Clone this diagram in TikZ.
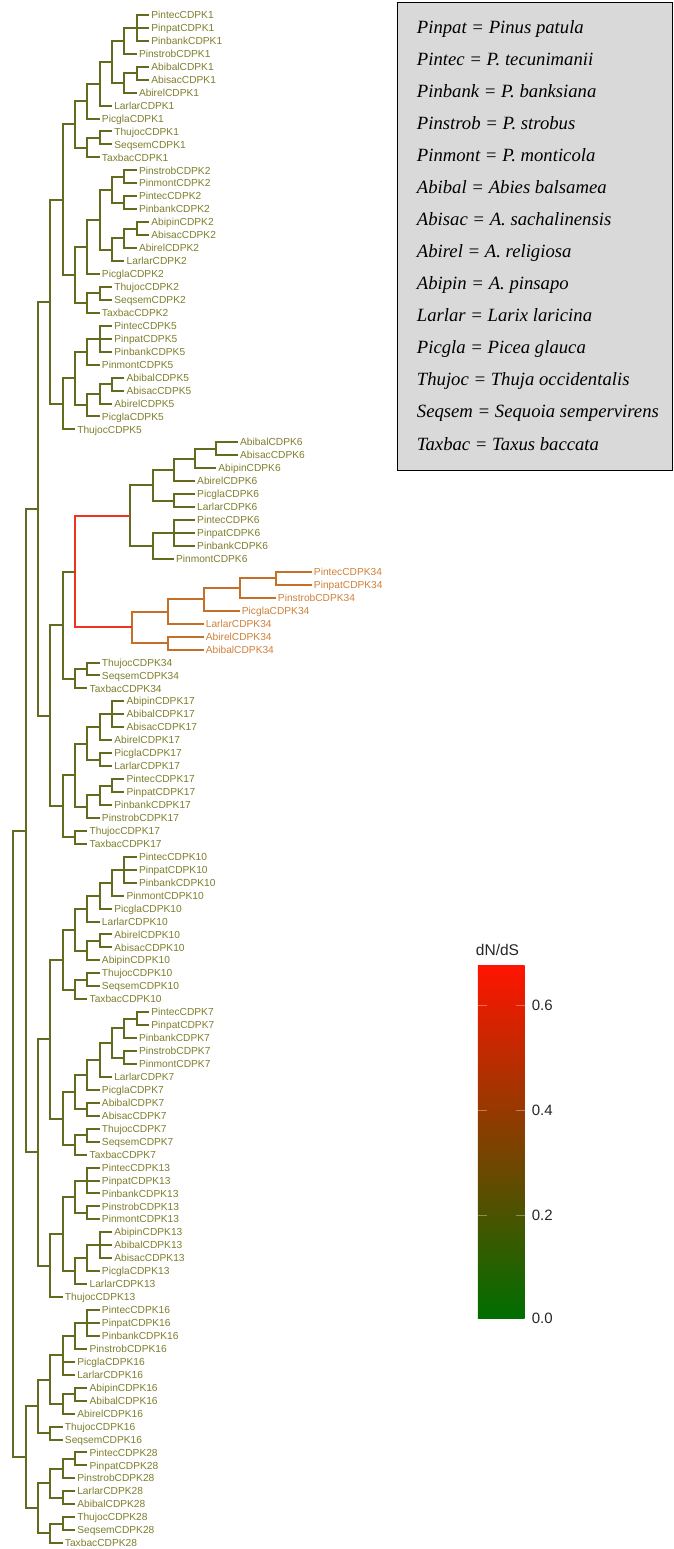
\documentclass[tikz,border=0pt]{standalone}
\usepackage{fontspec}
\setmainfont{Liberation Serif}
\setsansfont{Liberation Sans}
\definecolor{olivebr}{RGB}{100,106,30}
\definecolor{olivetx}{RGB}{126,126,44}
\definecolor{hotbr}{RGB}{236,52,32}
\definecolor{warmbr}{RGB}{196,112,40}
\definecolor{warmtx}{RGB}{208,128,56}
\definecolor{keygray}{RGB}{217,217,217}
\definecolor{cbgreen}{RGB}{0,110,0}
\definecolor{cbmid}{RGB}{150,92,0}
\definecolor{cbred}{RGB}{255,20,0}
\begin{document}
\begin{tikzpicture}[x=1pt, y=-1pt,
    taxon/.style={anchor=west, inner xsep=1.3pt, inner ysep=0pt, text height=7.3pt, text depth=0pt,
      font=\sffamily\fontsize{10.2}{12}\selectfont, text=olivetx},
    warmtaxon/.style={taxon, text=warmtx},
    keyline/.style={anchor=base west, inner sep=0pt, font=\itshape\fontsize{18.7}{22}\selectfont},
    barlabel/.style={anchor=west, inner sep=0pt, font=\sffamily\fontsize{15}{18}\selectfont, text=black!85}]
  \useasboundingbox (0,0) rectangle (674,1549);

  \begin{scope}[x=12.34pt, xshift=13.3pt, line width=2pt, olivebr]
    % CDPK1
    \node[taxon] (pintec1) at (11,15.0) {PintecCDPK1};
    \node[taxon] (pinpat1) at (11,27.9) {PinpatCDPK1};
    \node[taxon] (pinbank1) at (11,40.9) {PinbankCDPK1};
    \node[taxon] (pinstrob1) at (10,53.8) {PinstrobCDPK1};
    \node[taxon] (abibal1) at (11,66.8) {AbibalCDPK1};
    \node[taxon] (abisac1) at (11,79.7) {AbisacCDPK1};
    \node[taxon] (abirel1) at (10,92.7) {AbirelCDPK1};
    \node[taxon] (larlar1) at (8,105.6) {LarlarCDPK1};
    \node[taxon] (picgla1) at (7,118.6) {PicglaCDPK1};
    \node[taxon] (thujoc1) at (8,131.5) {ThujocCDPK1};
    \node[taxon] (seqsem1) at (8,144.5) {SeqsemCDPK1};
    \node[taxon] (taxbac1) at (7,157.4) {TaxbacCDPK1};
    % CDPK2
    \node[taxon] (pinstrob2) at (10,170.4) {PinstrobCDPK2};
    \node[taxon] (pinmont2) at (10,183.3) {PinmontCDPK2};
    \node[taxon] (pintec2) at (10,196.3) {PintecCDPK2};
    \node[taxon] (pinbank2) at (10,209.2) {PinbankCDPK2};
    \node[taxon] (abipin2) at (11,222.2) {AbipinCDPK2};
    \node[taxon] (abisac2) at (11,235.1) {AbisacCDPK2};
    \node[taxon] (abirel2) at (10,248.1) {AbirelCDPK2};
    \node[taxon] (larlar2) at (9,261.0) {LarlarCDPK2};
    \node[taxon] (picgla2) at (7,274.0) {PicglaCDPK2};
    \node[taxon] (thujoc2) at (8,286.9) {ThujocCDPK2};
    \node[taxon] (seqsem2) at (8,299.9) {SeqsemCDPK2};
    \node[taxon] (taxbac2) at (7,312.8) {TaxbacCDPK2};
    % CDPK5
    \node[taxon] (pintec5) at (8,325.8) {PintecCDPK5};
    \node[taxon] (pinpat5) at (8,338.7) {PinpatCDPK5};
    \node[taxon] (pinbank5) at (8,351.7) {PinbankCDPK5};
    \node[taxon] (pinmont5) at (7,364.6) {PinmontCDPK5};
    \node[taxon] (abibal5) at (9,377.6) {AbibalCDPK5};
    \node[taxon] (abisac5) at (9,390.5) {AbisacCDPK5};
    \node[taxon] (abirel5) at (8,403.5) {AbirelCDPK5};
    \node[taxon] (picgla5) at (7,416.4) {PicglaCDPK5};
    \node[taxon] (thujoc5) at (5,429.4) {ThujocCDPK5};
    % CDPK6
    \node[taxon] (abibal6) at (18.2,442.3) {AbibalCDPK6};
    \node[taxon] (abisac6) at (18.2,455.3) {AbisacCDPK6};
    \node[taxon] (abipin6) at (16.43,468.2) {AbipinCDPK6};
    \node[taxon] (abirel6) at (14.72,481.2) {AbirelCDPK6};
    \node[taxon] (picgla6) at (14.72,494.1) {PicglaCDPK6};
    \node[taxon] (larlar6) at (14.72,507.1) {LarlarCDPK6};
    \node[taxon] (pintec6) at (14.72,520.0) {PintecCDPK6};
    \node[taxon] (pinpat6) at (14.72,533.0) {PinpatCDPK6};
    \node[taxon] (pinbank6) at (14.72,545.9) {PinbankCDPK6};
    \node[taxon] (pinmont6) at (13.0,558.9) {PinmontCDPK6};
    % CDPK34
    \node[warmtaxon] (pintec34) at (24.18,571.8) {PintecCDPK34};
    \node[warmtaxon] (pinpat34) at (24.18,584.8) {PinpatCDPK34};
    \node[warmtaxon] (pinstrob34) at (21.26,597.7) {PinstrobCDPK34};
    \node[warmtaxon] (picgla34) at (18.34,610.7) {PicglaCDPK34};
    \node[warmtaxon] (larlar34) at (15.42,623.6) {LarlarCDPK34};
    \node[warmtaxon] (abirel34) at (15.42,636.6) {AbirelCDPK34};
    \node[warmtaxon] (abibal34) at (15.42,649.5) {AbibalCDPK34};
    \node[taxon] (thujoc34) at (7,662.5) {ThujocCDPK34};
    \node[taxon] (seqsem34) at (7,675.4) {SeqsemCDPK34};
    \node[taxon] (taxbac34) at (6,688.4) {TaxbacCDPK34};
    % CDPK17
    \node[taxon] (abipin17) at (9,701.3) {AbipinCDPK17};
    \node[taxon] (abibal17) at (9,714.3) {AbibalCDPK17};
    \node[taxon] (abisac17) at (9,727.2) {AbisacCDPK17};
    \node[taxon] (abirel17) at (8,740.2) {AbirelCDPK17};
    \node[taxon] (picgla17) at (8,753.1) {PicglaCDPK17};
    \node[taxon] (larlar17) at (8,766.1) {LarlarCDPK17};
    \node[taxon] (pintec17) at (9,779.0) {PintecCDPK17};
    \node[taxon] (pinpat17) at (9,792.0) {PinpatCDPK17};
    \node[taxon] (pinbank17) at (8,804.9) {PinbankCDPK17};
    \node[taxon] (pinstrob17) at (7,817.9) {PinstrobCDPK17};
    \node[taxon] (thujoc17) at (6,830.8) {ThujocCDPK17};
    \node[taxon] (taxbac17) at (6,843.8) {TaxbacCDPK17};
    % CDPK10
    \node[taxon] (pintec10) at (10,856.7) {PintecCDPK10};
    \node[taxon] (pinpat10) at (10,869.7) {PinpatCDPK10};
    \node[taxon] (pinbank10) at (10,882.6) {PinbankCDPK10};
    \node[taxon] (pinmont10) at (9,895.6) {PinmontCDPK10};
    \node[taxon] (picgla10) at (8,908.5) {PicglaCDPK10};
    \node[taxon] (larlar10) at (7,921.5) {LarlarCDPK10};
    \node[taxon] (abirel10) at (8,934.4) {AbirelCDPK10};
    \node[taxon] (abisac10) at (8,947.4) {AbisacCDPK10};
    \node[taxon] (abipin10) at (7,960.3) {AbipinCDPK10};
    \node[taxon] (thujoc10) at (7,973.3) {ThujocCDPK10};
    \node[taxon] (seqsem10) at (7,986.2) {SeqsemCDPK10};
    \node[taxon] (taxbac10) at (6,999.2) {TaxbacCDPK10};
    % CDPK7
    \node[taxon] (pintec7) at (11,1012.1) {PintecCDPK7};
    \node[taxon] (pinpat7) at (11,1025.1) {PinpatCDPK7};
    \node[taxon] (pinbank7) at (10,1038.0) {PinbankCDPK7};
    \node[taxon] (pinstrob7) at (10,1051.0) {PinstrobCDPK7};
    \node[taxon] (pinmont7) at (10,1063.9) {PinmontCDPK7};
    \node[taxon] (larlar7) at (8,1076.9) {LarlarCDPK7};
    \node[taxon] (picgla7) at (7,1089.8) {PicglaCDPK7};
    \node[taxon] (abibal7) at (7,1102.8) {AbibalCDPK7};
    \node[taxon] (abisac7) at (7,1115.7) {AbisacCDPK7};
    \node[taxon] (thujoc7) at (7,1128.7) {ThujocCDPK7};
    \node[taxon] (seqsem7) at (7,1141.6) {SeqsemCDPK7};
    \node[taxon] (taxbac7) at (6,1154.6) {TaxbacCDPK7};
    % CDPK13
    \node[taxon] (pintec13) at (7,1167.5) {PintecCDPK13};
    \node[taxon] (pinpat13) at (7,1180.5) {PinpatCDPK13};
    \node[taxon] (pinbank13) at (7,1193.4) {PinbankCDPK13};
    \node[taxon] (pinstrob13) at (7,1206.4) {PinstrobCDPK13};
    \node[taxon] (pinmont13) at (7,1219.3) {PinmontCDPK13};
    \node[taxon] (abipin13) at (8,1232.3) {AbipinCDPK13};
    \node[taxon] (abibal13) at (8,1245.2) {AbibalCDPK13};
    \node[taxon] (abisac13) at (8,1258.2) {AbisacCDPK13};
    \node[taxon] (picgla13) at (7,1271.1) {PicglaCDPK13};
    \node[taxon] (larlar13) at (6,1284.1) {LarlarCDPK13};
    \node[taxon] (thujoc13) at (4,1297.0) {ThujocCDPK13};
    % CDPK16
    \node[taxon] (pintec16) at (7,1310.0) {PintecCDPK16};
    \node[taxon] (pinpat16) at (7,1322.9) {PinpatCDPK16};
    \node[taxon] (pinbank16) at (7,1335.9) {PinbankCDPK16};
    \node[taxon] (pinstrob16) at (6,1348.8) {PinstrobCDPK16};
    \node[taxon] (picgla16) at (5,1361.8) {PicglaCDPK16};
    \node[taxon] (larlar16) at (5,1374.7) {LarlarCDPK16};
    \node[taxon] (abipin16) at (6,1387.7) {AbipinCDPK16};
    \node[taxon] (abibal16) at (6,1400.6) {AbibalCDPK16};
    \node[taxon] (abirel16) at (5,1413.6) {AbirelCDPK16};
    \node[taxon] (thujoc16) at (4,1426.5) {ThujocCDPK16};
    \node[taxon] (seqsem16) at (4,1439.5) {SeqsemCDPK16};
    % CDPK28
    \node[taxon] (pintec28) at (6,1452.4) {PintecCDPK28};
    \node[taxon] (pinpat28) at (6,1465.4) {PinpatCDPK28};
    \node[taxon] (pinstrob28) at (5,1478.3) {PinstrobCDPK28};
    \node[taxon] (larlar28) at (5,1491.3) {LarlarCDPK28};
    \node[taxon] (abibal28) at (5,1504.2) {AbibalCDPK28};
    \node[taxon] (thujoc28) at (5,1517.2) {ThujocCDPK28};
    \node[taxon] (seqsem28) at (5,1530.1) {SeqsemCDPK28};
    \node[taxon] (taxbac28) at (4,1543.1) {TaxbacCDPK28};

    % inner nodes
    \coordinate (c1a) at (10,28.0);   \coordinate (c1b) at (9,40.9);
    \coordinate (c1c) at (10,73.3);   \coordinate (c1d) at (9,83.0);
    \coordinate (c1e) at (8,62.0);    \coordinate (c1f) at (7,83.8);
    \coordinate (c1g) at (6,101.2);   \coordinate (c1h) at (7,138.0);
    \coordinate (c1i) at (6,147.7);   \coordinate (c1) at (5,124.5);
    \coordinate (c2a) at (9,176.9);   \coordinate (c2b) at (9,202.8);
    \coordinate (c2c) at (8,189.9);   \coordinate (c2d) at (10,228.7);
    \coordinate (c2e) at (9,238.4);   \coordinate (c2f) at (8,249.7);
    \coordinate (c2g) at (7,219.8);   \coordinate (c2h) at (6,246.9);
    \coordinate (c2i) at (7,293.4);   \coordinate (c2j) at (6,303.1);
    \coordinate (c2) at (5,275.0);    \coordinate (b1) at (4,199.8);
    \coordinate (c5a) at (7,338.8);   \coordinate (c5b) at (6,351.7);
    \coordinate (c5c) at (8,384.1);   \coordinate (c5d) at (7,393.8);
    \coordinate (c5e) at (6,405.1);   \coordinate (c5f) at (5,378.4);
    \coordinate (c5) at (4,403.9);    \coordinate (b2) at (3,301.9);
    \coordinate (c6a) at (16.43,448.8); \coordinate (c6b) at (14.72,458.5);
    \coordinate (c6c) at (13.0,469.9);  \coordinate (c6d) at (13.0,500.6);
    \coordinate (c6e) at (11.35,485.3); \coordinate (c6f) at (13.0,533.0);
    \coordinate (c6g) at (11.35,546.0); \coordinate (c6) at (9.45,515.7);
    \coordinate (c34a) at (21.26,578.3); \coordinate (c34b) at (18.34,588.0);
    \coordinate (c34c) at (15.42,599.4); \coordinate (c34d) at (12.5,611.5);
    \coordinate (c34e) at (12.5,643.1);  \coordinate (c34) at (9.59,627.3);
    \coordinate (b3) at (5,571.5);
    \coordinate (c34f) at (6,669.0);  \coordinate (c34g) at (5,678.7);
    \coordinate (b4) at (4,625.1);
    \coordinate (c17a) at (8,714.3);  \coordinate (c17b) at (7,727.3);
    \coordinate (c17c) at (7,759.6);  \coordinate (c17d) at (6,743.5);
    \coordinate (c17e) at (8,785.5);  \coordinate (c17f) at (7,795.2);
    \coordinate (c17g) at (6,806.6);  \coordinate (c17h) at (5,775.1);
    \coordinate (c17i) at (5,837.3);  \coordinate (c17) at (4,806.2);
    \coordinate (b5) at (3,715.7);    \coordinate (b6) at (2,508.8);
    \coordinate (c10a) at (9,869.7);  \coordinate (c10b) at (8,882.7);
    \coordinate (c10c) at (7,895.6);  \coordinate (c10d) at (6,908.6);
    \coordinate (c10e) at (7,940.9);  \coordinate (c10f) at (6,950.6);
    \coordinate (c10g) at (5,929.6);  \coordinate (c10h) at (6,979.8);
    \coordinate (c10i) at (5,989.5);  \coordinate (c10) at (4,959.6);
    \coordinate (c7a) at (10,1018.6); \coordinate (c7b) at (9,1028.3);
    \coordinate (c7c) at (9,1057.5);  \coordinate (c7d) at (8,1042.9);
    \coordinate (c7e) at (7,1059.9);  \coordinate (c7f) at (6,1074.9);
    \coordinate (c7g) at (6,1109.3);  \coordinate (c7h) at (5,1092.1);
    \coordinate (c7i) at (6,1135.2);  \coordinate (c7j) at (5,1144.9);
    \coordinate (c7) at (4,1118.5);   \coordinate (b7) at (3,1039.1);
    \coordinate (c13a) at (6,1180.5); \coordinate (c13b) at (6,1212.9);
    \coordinate (c13c) at (5,1196.7); \coordinate (c13d) at (7,1245.3);
    \coordinate (c13e) at (6,1258.2); \coordinate (c13f) at (5,1271.2);
    \coordinate (c13g) at (4,1234.0); \coordinate (c13) at (3,1265.5);
    \coordinate (b8) at (2,1152.3);   \coordinate (b9) at (1,830.6);
    \coordinate (c16a) at (6,1323.0); \coordinate (c16b) at (5,1335.9);
    \coordinate (c16c) at (4,1355.3); \coordinate (c16d) at (5,1394.2);
    \coordinate (c16e) at (4,1403.9); \coordinate (c16f) at (3,1379.6);
    \coordinate (c16g) at (3,1433.0); \coordinate (c16) at (2,1406.3);
    \coordinate (c28a) at (5,1458.9); \coordinate (c28b) at (4,1468.6);
    \coordinate (c28c) at (4,1497.8); \coordinate (c28d) at (3,1483.2);
    \coordinate (c28e) at (4,1523.7); \coordinate (c28f) at (3,1533.4);
    \coordinate (c28) at (2,1508.3);  \coordinate (b10) at (1,1457.3);
    \coordinate (root) at (0,1144.0);

    % branches
    \draw (pintec1) -| (c1a) |- (pinbank1); \draw (c1a |- pinpat1) -- (pinpat1);
    \draw (c1a) -| (c1b) |- (pinstrob1);
    \draw (abibal1) -| (c1c) |- (abisac1);
    \draw (c1c) -| (c1d) |- (abirel1);
    \draw (c1b) -| (c1e) |- (c1d);
    \draw (c1e) -| (c1f) |- (larlar1);
    \draw (c1f) -| (c1g) |- (picgla1);
    \draw (thujoc1) -| (c1h) |- (seqsem1);
    \draw (c1h) -| (c1i) |- (taxbac1);
    \draw (c1g) -| (c1) |- (c1i);
    \draw (pinstrob2) -| (c2a) |- (pinmont2);
    \draw (pintec2) -| (c2b) |- (pinbank2);
    \draw (c2a) -| (c2c) |- (c2b);
    \draw (abipin2) -| (c2d) |- (abisac2);
    \draw (c2d) -| (c2e) |- (abirel2);
    \draw (c2e) -| (c2f) |- (larlar2);
    \draw (c2c) -| (c2g) |- (c2f);
    \draw (c2g) -| (c2h) |- (picgla2);
    \draw (thujoc2) -| (c2i) |- (seqsem2);
    \draw (c2i) -| (c2j) |- (taxbac2);
    \draw (c2h) -| (c2) |- (c2j);
    \draw (c1) -| (b1) |- (c2);
    \draw (pintec5) -| (c5a) |- (pinbank5); \draw (c5a |- pinpat5) -- (pinpat5);
    \draw (c5a) -| (c5b) |- (pinmont5);
    \draw (abibal5) -| (c5c) |- (abisac5);
    \draw (c5c) -| (c5d) |- (abirel5);
    \draw (c5d) -| (c5e) |- (picgla5);
    \draw (c5b) -| (c5f) |- (c5e);
    \draw (c5f) -| (c5) |- (thujoc5);
    \draw (b1) -| (b2) |- (c5);
    \draw (abibal6) -| (c6a) |- (abisac6);
    \draw (c6a) -| (c6b) |- (abipin6);
    \draw (c6b) -| (c6c) |- (abirel6);
    \draw (picgla6) -| (c6d) |- (larlar6);
    \draw (c6c) -| (c6e) |- (c6d);
    \draw (pintec6) -| (c6f) |- (pinbank6); \draw (c6f |- pinpat6) -- (pinpat6);
    \draw (c6f) -| (c6g) |- (pinmont6);
    \draw (c6e) -| (c6) |- (c6g);
    \draw[warmbr] (pintec34) -| (c34a) |- (pinpat34);
    \draw[warmbr] (c34a) -| (c34b) |- (pinstrob34);
    \draw[warmbr] (c34b) -| (c34c) |- (picgla34);
    \draw[warmbr] (c34c) -| (c34d) |- (larlar34);
    \draw[warmbr] (abirel34) -| (c34e) |- (abibal34);
    \draw[warmbr] (c34d) -| (c34) |- (c34e);
    \draw[hotbr] (c6) -| (b3) |- (c34);
    \draw (thujoc34) -| (c34f) |- (seqsem34);
    \draw (c34f) -| (c34g) |- (taxbac34);
    \draw (b3) -| (b4) |- (c34g);
    \draw (abipin17) -| (c17a) |- (abisac17); \draw (c17a |- abibal17) -- (abibal17);
    \draw (c17a) -| (c17b) |- (abirel17);
    \draw (picgla17) -| (c17c) |- (larlar17);
    \draw (c17b) -| (c17d) |- (c17c);
    \draw (pintec17) -| (c17e) |- (pinpat17);
    \draw (c17e) -| (c17f) |- (pinbank17);
    \draw (c17f) -| (c17g) |- (pinstrob17);
    \draw (c17d) -| (c17h) |- (c17g);
    \draw (thujoc17) -| (c17i) |- (taxbac17);
    \draw (c17h) -| (c17) |- (c17i);
    \draw (b4) -| (b5) |- (c17);
    \draw (b2) -| (b6) |- (b5);
    \draw (pintec10) -| (c10a) |- (pinbank10); \draw (c10a |- pinpat10) -- (pinpat10);
    \draw (c10a) -| (c10b) |- (pinmont10);
    \draw (c10b) -| (c10c) |- (picgla10);
    \draw (c10c) -| (c10d) |- (larlar10);
    \draw (abirel10) -| (c10e) |- (abisac10);
    \draw (c10e) -| (c10f) |- (abipin10);
    \draw (c10d) -| (c10g) |- (c10f);
    \draw (thujoc10) -| (c10h) |- (seqsem10);
    \draw (c10h) -| (c10i) |- (taxbac10);
    \draw (c10g) -| (c10) |- (c10i);
    \draw (pintec7) -| (c7a) |- (pinpat7);
    \draw (c7a) -| (c7b) |- (pinbank7);
    \draw (pinstrob7) -| (c7c) |- (pinmont7);
    \draw (c7b) -| (c7d) |- (c7c);
    \draw (c7d) -| (c7e) |- (larlar7);
    \draw (c7e) -| (c7f) |- (picgla7);
    \draw (abibal7) -| (c7g) |- (abisac7);
    \draw (c7f) -| (c7h) |- (c7g);
    \draw (thujoc7) -| (c7i) |- (seqsem7);
    \draw (c7i) -| (c7j) |- (taxbac7);
    \draw (c7h) -| (c7) |- (c7j);
    \draw (c10) -| (b7) |- (c7);
    \draw (pintec13) -| (c13a) |- (pinbank13); \draw (c13a |- pinpat13) -- (pinpat13);
    \draw (pinstrob13) -| (c13b) |- (pinmont13);
    \draw (c13a) -| (c13c) |- (c13b);
    \draw (abipin13) -| (c13d) |- (abisac13); \draw (c13d |- abibal13) -- (abibal13);
    \draw (c13d) -| (c13e) |- (picgla13);
    \draw (c13e) -| (c13f) |- (larlar13);
    \draw (c13c) -| (c13g) |- (c13f);
    \draw (c13g) -| (c13) |- (thujoc13);
    \draw (b7) -| (b8) |- (c13);
    \draw (b6) -| (b9) |- (b8);
    \draw (pintec16) -| (c16a) |- (pinbank16); \draw (c16a |- pinpat16) -- (pinpat16);
    \draw (c16a) -| (c16b) |- (pinstrob16);
    \draw (c16b) -| (c16c) |- (larlar16); \draw (c16c |- picgla16) -- (picgla16);
    \draw (abipin16) -| (c16d) |- (abibal16);
    \draw (c16d) -| (c16e) |- (abirel16);
    \draw (c16c) -| (c16f) |- (c16e);
    \draw (thujoc16) -| (c16g) |- (seqsem16);
    \draw (c16f) -| (c16) |- (c16g);
    \draw (pintec28) -| (c28a) |- (pinpat28);
    \draw (c28a) -| (c28b) |- (pinstrob28);
    \draw (larlar28) -| (c28c) |- (abibal28);
    \draw (c28b) -| (c28d) |- (c28c);
    \draw (thujoc28) -| (c28e) |- (seqsem28);
    \draw (c28e) -| (c28f) |- (taxbac28);
    \draw (c28d) -| (c28) |- (c28f);
    \draw (c16) -| (b10) |- (c28);
    \draw (b9) -| (root) |- (b10);
  \end{scope}

  % species key
  \node[draw=black, line width=1pt, fill=keygray, inner sep=0pt, minimum width=275.3pt,
    minimum height=468pt, anchor=north west] (key) at (396.7,2) {};
  \node[keyline] (k1) at (416.7,33.2) {Pinpat = Pinus patula};
  \node[keyline] (k2) at (416.7,65.3) {Pintec = P. tecunimanii};
  \node[keyline] (k3) at (416.7,97.3) {Pinbank = P. banksiana};
  \node[keyline] (k4) at (416.7,129.4) {Pinstrob = P. strobus};
  \node[keyline] (k5) at (416.7,161.4) {Pinmont = P. monticola};
  \node[keyline] (k6) at (416.7,193.5) {Abibal = Abies balsamea};
  \node[keyline] (k7) at (416.7,225.6) {Abisac = A. sachalinensis};
  \node[keyline] (k8) at (416.7,257.6) {Abirel = A. religiosa};
  \node[keyline] (k9) at (416.7,289.7) {Abipin = A. pinsapo};
  \node[keyline] (k10) at (416.7,321.7) {Larlar = Larix laricina};
  \node[keyline] (k11) at (416.7,353.8) {Picgla = Picea glauca};
  \node[keyline] (k12) at (416.7,385.9) {Thujoc = Thuja occidentalis};
  \node[keyline] (k13) at (416.7,417.9) {Seqsem = Sequoia sempervirens};
  \node[keyline] (k14) at (416.7,450.0) {Taxbac = Taxus baccata};

  % dN/dS colour bar
  \node[inner sep=0pt, minimum width=46.6pt, minimum height=353pt, anchor=north west,
    bottom color=cbgreen, middle color=cbmid, top color=cbred] (bar) at (477.7,965) {};
  \node[anchor=base, inner sep=0pt, font=\sffamily\fontsize{15.5}{18}\selectfont, text=black!85]
    (dnds) at (497.5,955) {dN/dS};
  \node[barlabel] (v6) at (531.7,1005) {0.6};
  \node[barlabel] (v4) at (531.7,1110) {0.4};
  \node[barlabel] (v2) at (531.7,1215) {0.2};
  \node[barlabel] (v0) at (531.7,1318) {0.0};
  \draw[white, opacity=.35, line width=.8pt] (bar.west |- v6) -- +(9,0) (bar.east |- v6) -- +(-9,0)
    (bar.west |- v4) -- +(9,0) (bar.east |- v4) -- +(-9,0)
    (bar.west |- v2) -- +(9,0) (bar.east |- v2) -- +(-9,0);
\end{tikzpicture}
\end{document}
